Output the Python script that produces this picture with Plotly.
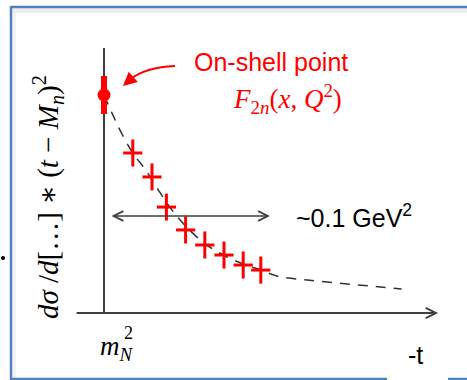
import plotly.graph_objects as go

W, H = 467, 380

# ---- data (arbitrary units; -t in GeV^2) ----
m_N2 = 0.88                     # on-shell position (m_N^2)
on_shell_y = [1.0]
on_shell_err = [0.087]

t_points = [0.898, 0.910, 0.919, 0.931, 0.943, 0.955, 0.967, 0.978]
y_points = [0.734, 0.624, 0.486, 0.381, 0.312, 0.266, 0.220, 0.197]
y_errs = [0.062] * 8
t_errs = [0.006] * 8

curve_t = [0.880, 0.885, 0.890, 0.898, 0.906, 0.914, 0.9225, 0.931, 0.9425,
           0.9545, 0.967, 0.978, 0.988, 1.007, 1.0255, 1.046, 1.066]
curve_y = [1.000, 0.917, 0.839, 0.734, 0.656, 0.564, 0.472, 0.399, 0.321,
           0.266, 0.225, 0.197, 0.170, 0.151, 0.138, 0.124, 0.110]

span_lo, span_hi, span_y = 0.88375, 0.98375, 0.445   # ~0.1 GeV^2 span
axis_t0, axis_t1 = 0.8619, 1.0888
axis_ytop = 1.2156

RED = "#FF0000"
AX = "#404040"
BLUE = "#4F81BD"


def PX(x):
    return x / W


def PY(y):
    return 1 - y / H


fig = go.Figure()

# dashed fit curve
fig.add_trace(go.Scatter(x=curve_t, y=curve_y, mode="lines",
                         line=dict(color="#333333", width=1.5, dash="10px,8px", shape="spline"),
                         hoverinfo="skip"))
# data crosses
fig.add_trace(go.Scatter(x=t_points, y=y_points, mode="markers",
                         marker=dict(size=1, color=RED),
                         error_y=dict(type="data", array=y_errs, color=RED, thickness=3, width=0),
                         error_x=dict(type="data", array=t_errs, color=RED, thickness=3, width=0)))
# on-shell point
fig.add_trace(go.Scatter(x=[m_N2], y=on_shell_y, mode="markers",
                         marker=dict(size=13, color=RED),
                         error_y=dict(type="data", array=on_shell_err, color=RED, thickness=6, width=0)))

shapes = []
# vertical axis
shapes.append(dict(type="line", xref="x", yref="y", x0=m_N2, x1=m_N2, y0=0, y1=axis_ytop,
                   line=dict(color=AX, width=2), layer="below"))
# frame (blue)
shapes.append(dict(type="line", xref="paper", yref="paper", x0=PX(11), x1=PX(470), y0=PY(7), y1=PY(7),
                   line=dict(color=BLUE, width=2.5)))
shapes.append(dict(type="line", xref="paper", yref="paper", x0=PX(11), x1=PX(11), y0=PY(6), y1=PY(381),
                   line=dict(color=BLUE, width=2.5)))
shapes.append(dict(type="line", xref="paper", yref="paper", x0=PX(11), x1=PX(387), y0=PY(379), y1=PY(379),
                   line=dict(color=BLUE, width=2.5)))
shapes.append(dict(type="line", xref="paper", yref="paper", x0=PX(448), x1=PX(470), y0=PY(379), y1=PY(379),
                   line=dict(color=BLUE, width=2.5)))
# soft inner shadow
shapes.append(dict(type="rect", xref="paper", yref="paper", x0=PX(12.5), x1=PX(470), y0=PY(8.5), y1=PY(13),
                   line=dict(width=0), fillcolor="rgba(0,0,0,0.07)"))
shapes.append(dict(type="rect", xref="paper", yref="paper", x0=PX(12.5), x1=PX(16), y0=PY(13), y1=PY(378),
                   line=dict(width=0), fillcolor="rgba(0,0,0,0.05)"))
# curved red arrow
shapes.append(dict(type="path", xref="paper", yref="paper",
                   path=f"M {PX(175)} {PY(66)} Q {PX(146)} {PY(67)} {PX(129)} {PY(80)}",
                   line=dict(color=RED, width=2.2)))
# stray bullet at left edge
shapes.append(dict(type="circle", xref="paper", yref="paper", x0=PX(1), x1=PX(5), y0=PY(256), y1=PY(260),
                   line=dict(width=0), fillcolor="black"))

ann = []
# horizontal axis with arrowhead
ann.append(dict(x=axis_t1, y=0, ax=axis_t0, ay=0, xref="x", yref="y", axref="x", ayref="y",
                text="", showarrow=True, arrowhead=5, arrowsize=1.0, arrowwidth=2, arrowcolor=AX,
                standoff=0))
# double arrow for ~0.1 GeV^2
ann.append(dict(x=span_hi, y=span_y, ax=span_lo, ay=span_y, xref="x", yref="y", axref="x", ayref="y",
                text="", showarrow=True, arrowhead=5, startarrowhead=5, arrowside="end+start",
                arrowsize=1.2, startarrowsize=1.2, arrowwidth=1.6, arrowcolor=AX,
                standoff=0, startstandoff=0))
# red arrowhead
ann.append(dict(x=PX(123), y=PY(86), xref="paper", yref="paper", ax=9, ay=-8,
                text="", showarrow=True, arrowhead=2, arrowsize=1.1, arrowwidth=2.5, arrowcolor=RED,
                standoff=0))

SANS = "Liberation Sans, Arial, sans-serif"
SERIF = "Liberation Serif, DejaVu Serif, serif"


def label(x, y, text, family, size, color="black", angle=0):
    return dict(x=PX(x), y=PY(y), xref="paper", yref="paper", showarrow=False,
                xanchor="center", yanchor="middle", textangle=angle,
                text=text, font=dict(family=family, size=size, color=color))


ann.append(label(271, 62, "On-shell point", SANS, 25, RED))
ann.append(label(287, 99, "<i>F</i><sub>2<i>n</i></sub>(<i>x</i>, <i>Q</i><sup>2</sup>)", SERIF, 27, RED))
ann.append(label(354, 216, "~0.1 GeV<sup>2</sup>", SANS, 25))
ann.append(label(415, 355, "-t", SANS, 25))
ann.append(label(117, 348, "<i>m</i><sub><i>N</i></sub>", SERIF, 27))
ann.append(label(128, 333, "2", SERIF, 18))
ann.append(label(48, 197, "<i>dσ</i> /<i>d</i>[…] ∗ (<i>t</i> − <i>M</i><sub><i>n</i></sub>)<sup>2</sup>",
                 SERIF, 29, angle=-90))

fig.update_layout(
    width=W, height=H, margin=dict(l=0, r=0, t=0, b=0),
    paper_bgcolor="white", plot_bgcolor="white", showlegend=False,
    xaxis=dict(visible=False, range=[0.815, 1.106875], fixedrange=True),
    yaxis=dict(visible=False, range=[-0.3073, 1.4358], fixedrange=True),
    shapes=shapes, annotations=ann,
)

fig.write_html("out.html")
